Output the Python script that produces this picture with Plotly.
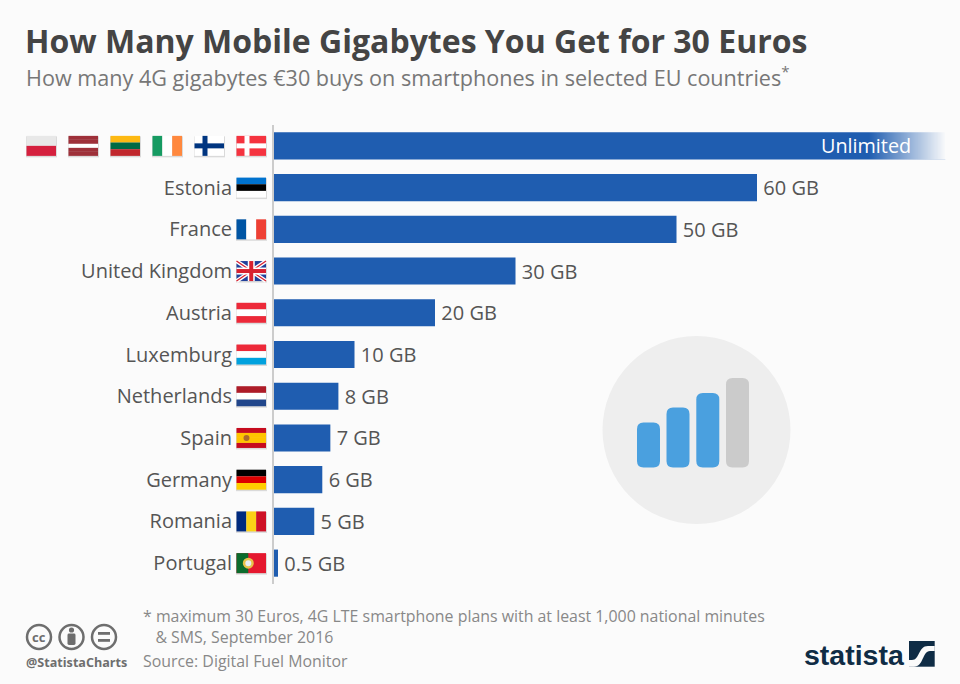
import re
import plotly.graph_objects as go

W, H = 960, 684
BG = "#fbfbfb"
BLUE = "#1f5db0"

countries = ["Denmark, Finland, Ireland, Lithuania, Latvia, Poland", "Estonia", "France", "United Kingdom",
             "Austria", "Luxemburg", "Netherlands", "Spain", "Germany", "Romania", "Portugal"]
tick_labels = ["Estonia", "France", "United Kingdom", "Austria", "Luxemburg",
               "Netherlands", "Spain", "Germany", "Romania", "Portugal"]
gigabytes = [83.4, 60, 50, 30, 20, 10, 8, 7, 6, 5, 0.5]
value_labels = [None, "60 GB", "50 GB", "30 GB", "20 GB", "10 GB", "8 GB", "7 GB", "6 GB", "5 GB", "0.5 GB"]

# plain striped flags: (direction, colours)
striped_flags = {
    "Poland": ("h", ["#e8e8e8", "#d5203e"]),
    "Latvia": ("h", ["#9e3039", "#9e3039", "#ffffff", "#9e3039", "#9e3039"]),
    "Lithuania": ("h", ["#fdb913", "#006a44", "#c1272d"]),
    "Ireland": ("v", ["#169b62", "#ffffff", "#ff883e"]),
    "Estonia": ("h", ["#0072ce", "#000000", "#ffffff"]),
    "France": ("v", ["#0055a4", "#ffffff", "#ef4135"]),
    "Austria": ("h", ["#ed2939", "#ffffff", "#ed2939"]),
    "Luxemburg": ("h", ["#ed2939", "#ffffff", "#00a1de"]),
    "Netherlands": ("h", ["#ae1c28", "#ffffff", "#21468b"]),
    "Spain": ("h", ["#c60b1e", "#ffc400", "#ffc400", "#c60b1e"]),
    "Germany": ("h", ["#000000", "#dd0000", "#ffce00"]),
    "Romania": ("v", ["#002b7f", "#fcd116", "#ce1126"]),
}

TOP, BOTTOM, LEFT = 125, 584, 274
PX_PER_GB = 8.05
shapes = []
annotations = []


def fx(x):
    return x / W


def fy(y):
    return 1 - y / H


def rect(x0, y0, x1, y1, color, opacity=1):
    shapes.append(dict(type="rect", xref="paper", yref="paper", x0=fx(x0), x1=fx(x1), y0=fy(y0), y1=fy(y1),
                       fillcolor=color, opacity=opacity, line_width=0))


def circle(cx, cy, r, fill="rgba(0,0,0,0)", line=None, width=0):
    shapes.append(dict(type="circle", xref="paper", yref="paper", x0=fx(cx - r), x1=fx(cx + r),
                       y0=fy(cy - r), y1=fy(cy + r), fillcolor=fill, line=dict(color=line, width=width)))


def path(d, color, line=None, width=0):
    # pixel numbers in d alternate x, y
    nums = iter(range(10000))
    def conv(m):
        v = float(m.group(0))
        return f"{fx(v):.5f}" if next(nums) % 2 == 0 else f"{fy(v):.5f}"
    shapes.append(dict(type="path", xref="paper", yref="paper", path=re.sub(r"[\d.]+", conv, d),
                       fillcolor=color, line=dict(color=line, width=width)))


def round_rect(x0, y0, x1, y1, r, color):
    path(f"M {x0+r} {y0} L {x1-r} {y0} Q {x1} {y0} {x1} {y0+r} L {x1} {y1-r} Q {x1} {y1} {x1-r} {y1} "
         f"L {x0+r} {y1} Q {x0} {y1} {x0} {y1-r} L {x0} {y0+r} Q {x0} {y0} {x0+r} {y0} Z", color)


def flag(name, x0, cy):
    w, h = 29.5, 20
    y0 = cy - h / 2
    rect(x0 - 0.5, y0 + 0.5, x0 + w + 1, y0 + h + 1.5, "#000000", 0.13)
    if name in striped_flags:
        kind, cols = striped_flags[name]
        for i, c in enumerate(cols):
            if kind == "h":
                rect(x0, y0 + h * i / len(cols), x0 + w, y0 + h * (i + 1) / len(cols), c)
            else:
                rect(x0 + w * i / len(cols), y0, x0 + w * (i + 1) / len(cols), y0 + h, c)
    if name == "Spain":
        circle(x0 + 10, cy, 3, "#ad6a2c")
    elif name in ("Finland", "Denmark"):
        base, cross = ("#ffffff", "#003580") if name == "Finland" else ("#f5333f", "#ffffff")
        rect(x0, y0, x0 + w, y0 + h, base)
        rect(x0 + 8, y0, x0 + 13, y0 + h, cross)
        rect(x0, cy - 2.5, x0 + w, cy + 2.5, cross)
    elif name == "UK":
        rect(x0, y0, x0 + w, y0 + h, "#21409a")
        x1, y1 = x0 + w, y0 + h
        path(f"M {x0} {y0} L {x1} {y1}", None, "#ffffff", 4)
        path(f"M {x1} {y0} L {x0} {y1}", None, "#ffffff", 4)
        path(f"M {x0} {y0} L {x1} {y1}", None, "#d8202f", 1.3)
        path(f"M {x1} {y0} L {x0} {y1}", None, "#d8202f", 1.3)
        rect(x0 + w / 2 - 3.5, y0, x0 + w / 2 + 3.5, y1, "#ffffff")
        rect(x0, cy - 3.5, x1, cy + 3.5, "#ffffff")
        rect(x0 + w / 2 - 2, y0, x0 + w / 2 + 2, y1, "#d8202f")
        rect(x0, cy - 2, x1, cy + 2, "#d8202f")
    elif name == "Portugal":
        rect(x0, y0, x0 + w, y0 + h, "#e5182f")
        rect(x0, y0, x0 + w * 0.4, y0 + h, "#0b6b2c")
        circle(x0 + w * 0.4, cy, 5.5, "#e8c34a")
        circle(x0 + w * 0.4, cy, 3, "#e8eef5")


def label(text, x, y, size, color, anchor="left", bold=False, family="Open Sans"):
    annotations.append(dict(text=f"<b>{text}</b>" if bold else text, xref="paper", yref="paper", x=fx(x), y=fy(y),
                            xanchor=anchor, yanchor="middle", align="left", showarrow=False,
                            font=dict(family=family, size=size, color=color)))


row_h = (BOTTOM - TOP) / len(countries)
row_y = [TOP + row_h * (i + 0.5) for i in range(len(countries))]

# Unlimited bar fades out to the background
bar_end = LEFT + gigabytes[0] * PX_PER_GB
fade_start = 868
for px in range(fade_start, int(bar_end) + 1):
    rect(px, row_y[0] - 14, px + 1, row_y[0] + 14, BG, min(1, (px - fade_start) / (bar_end - fade_start)))

for name, x0 in zip(["Poland", "Latvia", "Lithuania", "Ireland", "Finland", "Denmark"],
                    [26.5, 68.5, 110.5, 152.5, 194.5, 236.5]):
    flag(name, x0, row_y[0])
for name, cy in zip(["Estonia", "France", "UK", "Austria", "Luxemburg", "Netherlands", "Spain",
                     "Germany", "Romania", "Portugal"], row_y[1:]):
    flag(name, 236.5, cy)

# signal icon
circle(696.5, 430, 94, "#eeeeee")
for x0, top, col in [(637, 422.5, "#4aa0df"), (666.5, 407.5, "#4aa0df"), (696.3, 393, "#4aa0df"), (726, 378, "#cbcbcb")]:
    round_rect(x0, top, x0 + 23, 467.5, 6.5, col)

# licence icons
GREY = "#6e6e6e"
for cx in (39, 71.5, 104):
    circle(cx, 637, 12, BG, GREY, 2.5)
label("cc", 39, 636.5, 13, GREY, "center", True)
circle(71.5, 630, 2.6, GREY)
round_rect(67.5, 633.5, 75.5, 645, 1.5, GREY)
rect(98, 632, 110, 634.8, GREY)
rect(98, 639, 110, 641.8, GREY)

# statista logo
rect(909, 641, 934.7, 666.7, "#0f2c45")
path("M 909 660 L 912 660 C 920 660 918 646 928 646 L 934.7 646 L 934.7 651 L 930 651 "
     "C 922 651 924 666.7 914 666.7 L 909 666.7 Z", BG)
label("statista", 802, 655, 28.5, "#0f2c45", bold=True, family="Liberation Sans")

label("How many 4G gigabytes €30 buys on smartphones in selected EU countries<sup>*</sup>", 24, 77, 21.6, "#777777")
label("* maximum 30 Euros, 4G LTE smartphone plans with at least 1,000 national minutes<br>"
      "\u00a0\u00a0\u00a0& SMS, September 2016", 141, 626.5, 15.9, "#888888")
label("Source: Digital Fuel Monitor", 141, 661, 15.9, "#888888")
label("@StatistaCharts", 24, 662, 12.6, GREY, bold=True)

annotations.append(dict(text="Unlimited", xref="x", yref="y", x=(913 - LEFT) / PX_PER_GB, y=countries[0],
                        xanchor="right", yanchor="middle", showarrow=False,
                        font=dict(family="Open Sans", size=19.8, color="#ffffff")))

fig = go.Figure(go.Bar(
    x=gigabytes,
    y=countries,
    orientation="h",
    marker=dict(color=BLUE, line_width=0),
    text=[None if t is None else "\u2009" + t for t in value_labels],
    textposition="outside",
    cliponaxis=False,
    textfont=dict(family="Open Sans", size=20, color="#555555"),
    width=0.65,
))

fig.update_layout(
    width=W,
    height=H,
    margin=dict(l=0, r=0, t=0, b=0),
    paper_bgcolor=BG,
    plot_bgcolor=BG,
    showlegend=False,
    title=dict(text="<b>How Many Mobile Gigabytes You Get for 30 Euros</b>", x=25 / W, xanchor="left",
               y=fy(42), yanchor="middle", font=dict(family="Open Sans", size=32, color="#444444")),
    xaxis=dict(domain=[LEFT / W, 1], range=[0, (W - LEFT) / PX_PER_GB], visible=False),
    yaxis=dict(domain=[fy(BOTTOM), fy(TOP)], autorange="reversed", tickmode="array", tickvals=countries[1:],
               ticktext=tick_labels, ticks="", showgrid=False, showline=True, linecolor="#cccccc", linewidth=2,
               ticklabelstandoff=36, tickfont=dict(family="Open Sans", size=20, color="#555555")),
    shapes=shapes,
    annotations=annotations,
)

# the page's default body margin would push the figure off the window
fig.write_html("out.html", config={"displayModeBar": False},
               post_script="document.body.style.margin='0';document.body.style.background='#fbfbfb';")
